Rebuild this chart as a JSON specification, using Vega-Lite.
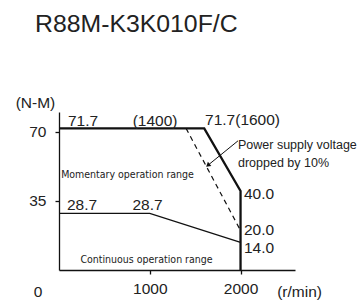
{
  "$schema": "https://vega.github.io/schema/vega-lite/v6.json",
  "width": 236,
  "height": 158,
  "autosize": "none",
  "padding": {"left": 59, "top": 112, "right": 67, "bottom": 30},
  "background": "white",
  "title": {"text": "R88M-K3K010F/C", "anchor": "start", "frame": "group", "dx": -24, "offset": 59, "fontSize": 24.8, "font": "Liberation Sans", "fontWeight": "normal", "color": "#222"},
  "config": {
    "view": {"stroke": null},
    "axis": {"grid": false, "domainColor": "#111", "tickColor": "#111", "labelFont": "Liberation Sans", "labelFontSize": 15.5, "labelColor": "#222", "domainWidth": 1.3, "tickWidth": 1.3}
  },
  "datasets": {
    "lines": [
      {"s": "mom", "i": 1, "x": 0, "y": 71.7},
      {"s": "mom", "i": 2, "x": 1600, "y": 71.7},
      {"s": "mom", "i": 3, "x": 2000, "y": 40},
      {"s": "mom", "i": 4, "x": 2000, "y": 0},
      {"s": "drop", "i": 1, "x": 1400, "y": 71.7},
      {"s": "drop", "i": 2, "x": 2000, "y": 20},
      {"s": "cont", "i": 1, "x": 0, "y": 28.7},
      {"s": "cont", "i": 2, "x": 1000, "y": 28.7},
      {"s": "cont", "i": 3, "x": 2000, "y": 14}
    ],
    "labels": [
      {"k": "num", "t": "71.7", "x": 265, "y": 75.6},
      {"k": "num", "t": "(1400)", "x": 1058, "y": 75.6},
      {"k": "num", "t": "71.7(1600)", "x": 2022, "y": 76},
      {"k": "num", "t": "28.7", "x": 253, "y": 32.9},
      {"k": "num", "t": "28.7", "x": 975, "y": 32.9},
      {"k": "numl", "t": "40.0", "x": 2038, "y": 38.5},
      {"k": "numl", "t": "20.0", "x": 2038, "y": 20.3},
      {"k": "numl", "t": "14.0", "x": 2038, "y": 11.1},
      {"k": "note", "t": "Power supply voltage", "x": 1972, "y": 63.4},
      {"k": "note", "t": "dropped by 10%", "x": 1972, "y": 54.2},
      {"k": "range", "t": "Momentary operation range", "x": 755, "y": 48.1},
      {"k": "range", "t": "Continuous operation range", "x": 964, "y": 5.1},
      {"k": "axis", "t": "0", "x": -231, "y": -11.1},
      {"k": "axis", "t": "(r/min)", "x": 2650, "y": -11.1},
      {"k": "axis", "t": "(N-M)", "x": -259, "y": 84.6}
    ],
    "arrow": [
      {"x": 1972, "y": 65.4, "x2": 1640, "y2": 53}
    ]
  },
  "layer": [
    {
      "data": {"name": "lines"},
      "transform": [{"filter": "datum.s === 'mom'"}],
      "mark": {"type": "line", "color": "#111", "strokeWidth": 2.3, "strokeJoin": "miter"},
      "encoding": {
        "x": {"field": "x", "type": "quantitative", "scale": {"domain": [0, 2600], "nice": false}, "axis": {"values": [1000, 2000], "format": "d", "tickSize": 4, "labelPadding": 7, "title": null}},
        "y": {"field": "y", "type": "quantitative", "scale": {"domain": [0, 80], "nice": false}, "axis": {"values": [35, 70], "tickSize": 4, "labelPadding": 9, "title": null}},
        "order": {"field": "i", "type": "quantitative"}
      }
    },
    {
      "data": {"name": "lines"},
      "transform": [{"filter": "datum.s === 'drop'"}],
      "mark": {"type": "line", "color": "#111", "strokeWidth": 1.2, "strokeDash": [5, 4]},
      "encoding": {
        "x": {"field": "x", "type": "quantitative"},
        "y": {"field": "y", "type": "quantitative"},
        "order": {"field": "i", "type": "quantitative"}
      }
    },
    {
      "data": {"name": "lines"},
      "transform": [{"filter": "datum.s === 'cont'"}],
      "mark": {"type": "line", "color": "#111", "strokeWidth": 1.3},
      "encoding": {
        "x": {"field": "x", "type": "quantitative"},
        "y": {"field": "y", "type": "quantitative"},
        "order": {"field": "i", "type": "quantitative"}
      }
    },
    {
      "data": {"name": "arrow"},
      "mark": {"type": "rule", "color": "#111", "strokeWidth": 1},
      "encoding": {
        "x": {"field": "x", "type": "quantitative"},
        "y": {"field": "y", "type": "quantitative"},
        "x2": {"field": "x2"},
        "y2": {"field": "y2"}
      }
    },
    {
      "data": {"name": "arrow"},
      "mark": {"type": "point", "shape": "triangle-right", "filled": true, "color": "#111", "size": 28, "angle": 140, "opacity": 1},
      "encoding": {
        "x": {"field": "x2", "type": "quantitative"},
        "y": {"field": "y2", "type": "quantitative"}
      }
    },
    {
      "data": {"name": "labels"},
      "transform": [{"filter": "datum.k === 'num' || datum.k === 'axis'"}],
      "mark": {"type": "text", "font": "Liberation Sans", "fontSize": 15.5, "color": "#222", "align": "center", "baseline": "middle"},
      "encoding": {
        "x": {"field": "x", "type": "quantitative"},
        "y": {"field": "y", "type": "quantitative"},
        "text": {"field": "t"}
      }
    },
    {
      "data": {"name": "labels"},
      "transform": [{"filter": "datum.k === 'numl'"}],
      "mark": {"type": "text", "font": "Liberation Sans", "fontSize": 15.5, "color": "#222", "align": "left", "baseline": "middle"},
      "encoding": {
        "x": {"field": "x", "type": "quantitative"},
        "y": {"field": "y", "type": "quantitative"},
        "text": {"field": "t"}
      }
    },
    {
      "data": {"name": "labels"},
      "transform": [{"filter": "datum.k === 'note'"}],
      "mark": {"type": "text", "font": "Liberation Sans", "fontSize": 12.5, "color": "#222", "align": "left", "baseline": "middle"},
      "encoding": {
        "x": {"field": "x", "type": "quantitative"},
        "y": {"field": "y", "type": "quantitative"},
        "text": {"field": "t"}
      }
    },
    {
      "data": {"name": "labels"},
      "transform": [{"filter": "datum.k === 'range'"}],
      "mark": {"type": "text", "font": "DejaVu Sans Condensed, Liberation Sans", "fontSize": 10.5, "color": "#222", "align": "center", "baseline": "middle"},
      "encoding": {
        "x": {"field": "x", "type": "quantitative"},
        "y": {"field": "y", "type": "quantitative"},
        "text": {"field": "t"}
      }
    }
  ]
}
